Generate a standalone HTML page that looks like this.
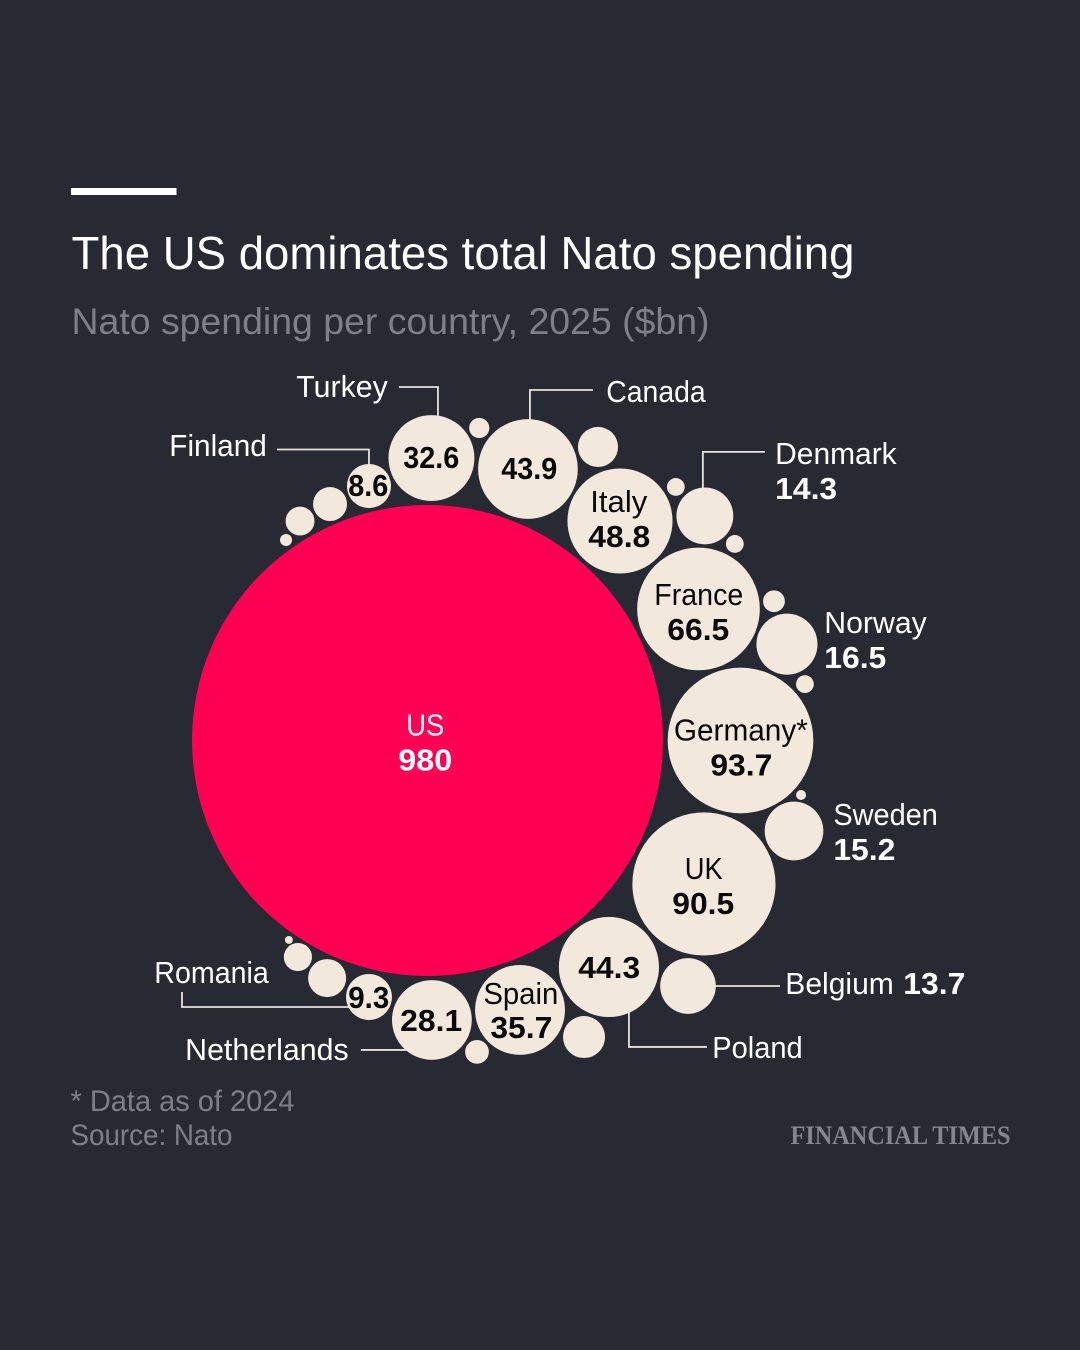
<!DOCTYPE html>
<html lang="en">
<head>
<meta charset="utf-8">
<title>The US dominates total Nato spending</title>
<style>
  html, body { margin: 0; padding: 0; background: #282a33; }
  svg { display: block; }
  text { font-family: "Liberation Sans", sans-serif; }
</style>
</head>
<body>
<svg id="chart" xmlns="http://www.w3.org/2000/svg" width="1080" height="1350" viewBox="0 0 1080 1350">
  <rect width="1080" height="1350" fill="#282a33"/>
  <rect x="71" y="188" width="105.5" height="7" fill="#ffffff"/>
  <text x="71.5" y="269" font-size="46" fill="#ffffff" textLength="783" lengthAdjust="spacingAndGlyphs">The US dominates total Nato spending</text>
  <text x="71.5" y="334" font-size="37" fill="#7d8089" textLength="638" lengthAdjust="spacingAndGlyphs">Nato spending per country, 2025 ($bn)</text>
  <g id="leaders"></g>
  <g id="bubbles"></g>
  <g id="labels" transform="translate(-0.7,-1)"></g>
  <text x="70.5" y="1111" font-size="30" fill="#7d8089" textLength="224" lengthAdjust="spacingAndGlyphs">* Data as of 2024</text>
  <text x="70.5" y="1145" font-size="30" fill="#7d8089" textLength="162" lengthAdjust="spacingAndGlyphs">Source: Nato</text>
  <text x="790.5" y="1144" font-size="26" font-weight="700" fill="#85868e" style="font-family:'Liberation Serif',serif" textLength="220" lengthAdjust="spacingAndGlyphs">FINANCIAL TIMES</text>
</svg>
<script>
// Data (unlabelled bubbles are estimated from their area)
const countries = ["US","Germany","France","Italy","Canada","Turkey","Finland","UK","Poland","Spain","Netherlands","Romania","Denmark","Norway","Sweden","Belgium","Small A","Small B","Small C","Small D","Small E","Small F","Small G","Small H","Small I","Small J","Small K","Small L","Small M","Small N","Small O"];
const spending  = [980,93.7,66.5,48.8,43.9,32.6,8.6,90.5,44.3,35.7,28.1,9.3,14.3,16.5,15.2,13.7,1.8,7.1,1.4,1.4,2.1,1.4,0.44,7.8,2.5,6.4,3.5,0.28,5.1,3.7,0.64];
// Packing description: direction from the US bubble, and gap between the US edge and the bubble's edge
const bearingDeg = [0,0,-25.9,-48.75,-69.7,-89.2,-102.95,27.43,51.3,71.05,89.1,102.85,-39,-15,13.87,43.3,-80.6,-59.85,-45.6,-32.6,-21.9,-8.5,8.3,62.17,80.97,112.9,120.9,124.8,-112.4,-120.15,-125.2];
const edgeGap    = [0,4.7,4.4,3.9,4.15,4.05,3.55,4.4,4.6,4.45,4.1,4.65,92.95,106.1,112.7,94.6,71.2,83.9,110.5,120.4,127,137.2,137,78.8,67.9,3.4,2.8,3.4,3.3,3.8,3.9];

const NS = "http://www.w3.org/2000/svg";
const US_CENTRE_X = 427.5, US_CENTRE_Y = 740.5, MAX_RADIUS = 235.5;
const radiusScale = v => MAX_RADIUS * Math.sqrt(v / spending[0]);
const slug = s => s.toLowerCase().replace(/[^a-z0-9]+/g, "-");

function bubbleCentre(i) {
  if (i === 0) return { x: US_CENTRE_X, y: US_CENTRE_Y };
  const r = radiusScale(spending[i]);
  const d = MAX_RADIUS + edgeGap[i] + r;
  const a = bearingDeg[i] * Math.PI / 180;
  return { x: US_CENTRE_X + d * Math.cos(a), y: US_CENTRE_Y + d * Math.sin(a) };
}

function make(tag, attrs, parent, content) {
  const el = document.createElementNS(NS, tag);
  Object.keys(attrs).forEach(k => el.setAttribute(k, attrs[k]));
  if (content !== undefined) el.textContent = content;
  parent.appendChild(el);
  return el;
}

const bubblesG = document.getElementById("bubbles");
const labelsG = document.getElementById("labels");
const leadersG = document.getElementById("leaders");

// Bubbles
countries.forEach((name, i) => {
  const c = bubbleCentre(i);
  const el = make("circle", { cx: c.x, cy: c.y, r: radiusScale(spending[i]), fill: i === 0 ? "#ff0052" : "#f2e8dc" }, bubblesG);
  
  
});

// Inside labels, as offsets from the bubble centre
const insideLabels = {
  "US":          { name: "US", nameDx: -1.5, nameDy: -4, nameW: 38, valDx: -1.5, valDy: 31, valW: 54, color: "#ffffff" },
  "Germany":     { name: "Germany*", nameDx: 1, nameDy: 1, nameW: 134, valDx: 1.5, valDy: 36, valW: 62 },
  "France":      { name: "France", nameDx: 1, nameDy: -3, nameW: 89, valDx: 0.5, valDy: 32, valW: 62 },
  "Italy":       { name: "Italy", nameDx: -0.5, nameDy: -8, nameW: 57, valDx: 0, valDy: 27, valW: 62 },
  "UK":          { name: "UK", nameDx: 0.5, nameDy: -4, nameW: 38, valDx: 0, valDy: 31, valW: 62 },
  "Spain":       { name: "Spain", nameDx: 1.5, nameDy: -5, nameW: 75, valDx: 2, valDy: 29, valW: 62 },
  "Canada":      { valDx: 2, valDy: 11, valW: 56 },
  "Turkey":      { valDx: 0.5, valDy: 11, valW: 56 },
  "Finland":     { valDx: 0, valDy: 11, valW: 40 },
  "Poland":      { valDx: 1, valDy: 12, valW: 62 },
  "Netherlands": { valDx: 0, valDy: 12, valW: 62 },
  "Romania":     { valDx: 0.5, valDy: 12, valW: 41 }
};
Object.keys(insideLabels).forEach(country => {
  const i = countries.indexOf(country);
  const c = bubbleCentre(i);
  const cfg = insideLabels[country];
  const color = cfg.color || "#0a0a0c";
  if (cfg.name) {
    const n = make("text", { x: c.x + cfg.nameDx, y: c.y + cfg.nameDy, "text-anchor": "middle", "font-size": 31, fill: color, textLength: cfg.nameW, lengthAdjust: "spacingAndGlyphs" }, labelsG, cfg.name);
    
    
  }
  const v = make("text", { x: c.x + cfg.valDx, y: c.y + cfg.valDy, "text-anchor": "middle", "font-size": 31, "font-weight": 700, fill: color, textLength: cfg.valW, lengthAdjust: "spacingAndGlyphs" }, labelsG, String(spending[i]));
  
  
});

// Outside labels and leaders, as offsets from the bubble centre. Leaders run under the bubble.
const outsideLabels = {
  "Turkey":      { nameDx: -134.5, nameDy: -60, nameW: 91.5, leader: [[-32.5,-71],[6.5,-71],[6.5,0]] },
  "Finland":     { nameDx: -199, nameDy: -29, nameW: 97.5, leader: [[-92,-36.5],[0,-36.5],[0,0]] },
  "Canada":      { nameDx: 79, nameDy: -66, nameW: 99.5, leader: [[65,-79],[2,-79],[2,0]] },
  "Denmark":     { nameDx: 71, nameDy: -51, nameW: 121.5, valDx: 71, valDy: -16, valW: 62, leader: [[60,-64],[-2,-64],[-2,0]] },
  "Norway":      { nameDx: 38, nameDy: -10, nameW: 102.5, valDx: 38, valDy: 25, valW: 62 },
  "Sweden":      { nameDx: 40, nameDy: -5, nameW: 104.5, valDx: 40, valDy: 30, valW: 62 },
  "Belgium":     { nameDx: 98, nameDy: 9, nameW: 108.5, valDx: 216, valDy: 9, valW: 62, leader: [[92,0],[0,0]] },
  "Poland":      { nameDx: 104, nameDy: 92, nameW: 90.5, leader: [[98,80],[20,80],[20,0]] },
  "Romania":     { nameDx: -214, nameDy: -13, nameW: 114.5, leader: [[-187,-5],[-187,10],[0,10]] },
  "Netherlands": { nameDx: -246, nameDy: 41, nameW: 163.5, leader: [[-71,30],[0,30]] }
};
Object.keys(outsideLabels).forEach(country => {
  const i = countries.indexOf(country);
  const c = bubbleCentre(i);
  const cfg = outsideLabels[country];
  const n = make("text", { x: c.x + cfg.nameDx, y: c.y + cfg.nameDy, "font-size": 31, fill: "#ffffff", textLength: cfg.nameW, lengthAdjust: "spacingAndGlyphs" }, labelsG, country);
  
  
  if (cfg.valW) {
    const v = make("text", { x: c.x + cfg.valDx, y: c.y + cfg.valDy, "font-size": 31, "font-weight": 700, fill: "#ffffff", textLength: cfg.valW, lengthAdjust: "spacingAndGlyphs" }, labelsG, String(spending[i]));
    
    
  }
  if (cfg.leader) {
    const pts = cfg.leader.map(p => (c.x + p[0]) + "," + (c.y + p[1])).join(" ");
    const l = make("polyline", { points: pts, fill: "none", stroke: "#e9e2d8", "stroke-width": 1.8 }, leadersG);
    
    
  }
});
</script>
</body>
</html>
